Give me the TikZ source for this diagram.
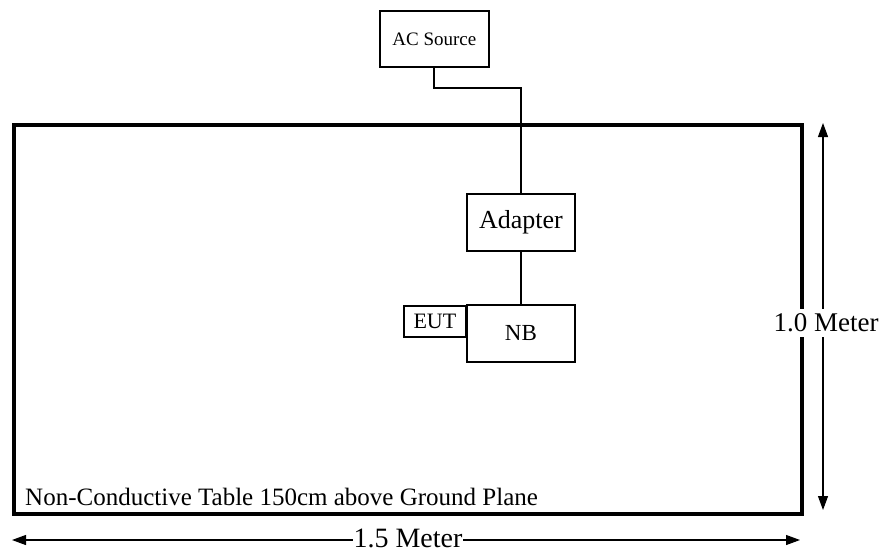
\documentclass[tikz,border=0pt]{standalone}
\usepackage{fontspec}
\setmainfont{Liberation Serif}
\usetikzlibrary{arrows.meta}
\begin{document}
\begin{tikzpicture}[x=1pt,y=-1pt,
  box/.style={draw,line width=1.8pt,inner sep=0pt,anchor=north west},
  wire/.style={line width=1.3pt},
  dim/.style={line width=1.1pt,{Triangle[length=14pt,width=10pt]}-{Triangle[length=14pt,width=10pt]}},
  lbl/.style={fill=white,inner xsep=1pt,inner ysep=0pt}]
\useasboundingbox (0,0) rectangle (882,552);
\node[draw,line width=3.8pt,minimum width=788pt,minimum height=389pt,inner sep=0pt,anchor=north west] (table) at (12,123) {};
\node[box,minimum width=109pt,minimum height=56pt,font=\fontsize{19}{22}\selectfont] (ac) at (379,10) {AC Source};
\node[box,minimum width=108pt,minimum height=57pt,font=\fontsize{26}{28}\selectfont] (ad) at (466,193) {Adapter};
\node[box,minimum width=108pt,minimum height=57pt,font=\fontsize{23}{26}\selectfont] (nb) at (466,304) {NB};
\node[box,minimum width=62pt,minimum height=31pt,font=\fontsize{22}{25}\selectfont] (eut) at (403,305) {EUT};
\coordinate (k1) at (434,88);
\coordinate (k2) at (521,88);
\draw[wire] (ac.south -| k1) -- (k1) -- (k2) -- (k2 |- ad.north);
\draw[wire] (ad.south -| k2) -- (nb.north -| k2);
\node[anchor=west,font=\fontsize{25}{28}\selectfont,inner sep=0pt] (cap) at (25,497) {Non-Conductive Table 150cm above Ground Plane};
\coordinate (v1) at (823,123);
\coordinate (v2) at (823,510);
\draw[dim] (v1) -- (v2);
\node[lbl,inner ysep=5pt,font=\fontsize{27}{30}\selectfont] (vl) at (826,323) {1.0 Meter};
\coordinate (h1) at (12,540);
\coordinate (h2) at (800,540);
\draw[dim] (h1) -- (h2);
\node[lbl,font=\fontsize{28}{30}\selectfont] (hl) at (408,538) {1.5 Meter};
\end{tikzpicture}
\end{document}
